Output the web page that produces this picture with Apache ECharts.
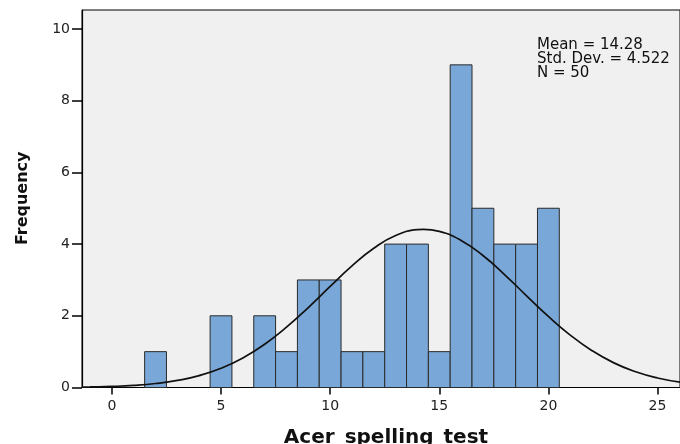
<!DOCTYPE html>
<html>
<head>
<meta charset="utf-8">
<script src="https://cdn.jsdelivr.net/npm/echarts@6/dist/echarts.min.js"></script>
<style>
html,body{margin:0;padding:0;background:#fff;}
#chart{width:680px;height:444px;}
</style>
</head>
<body>
<div id="chart"></div>
<script>
// Histogram bins (bin centre, width 1) and counts
const binCenters = [2, 5, 7, 8, 9, 10, 11, 12, 13, 14, 15, 16, 17, 18, 19, 20];
const binCounts  = [1, 2, 2, 1, 3, 3, 1, 1, 4, 4, 1, 9, 5, 4, 4, 5];
// Normal curve (x, frequency)
const curveX = [-1.37, -1, 0, 1, 2, 3, 4, 5, 6, 7, 8, 9, 10, 11, 12, 13, 14, 14.28, 15, 16, 17, 18, 19, 20, 21, 22, 23, 24, 25, 26.03];
const curveY = [0.011, 0.015, 0.030, 0.059, 0.111, 0.197, 0.333, 0.537, 0.825, 1.207, 1.682, 2.231, 2.818, 3.391, 3.884, 4.238, 4.403, 4.411, 4.355, 4.103, 3.681, 3.145, 2.558, 1.982, 1.462, 1.027, 0.687, 0.438, 0.266, 0.151];
const xTicks = [0, 5, 10, 15, 20, 25];
const yTicks = [0, 2, 4, 6, 8, 10];
const statsLines = ['Mean = 14.28', 'Std. Dev. = 4.522', 'N = 50'];
const xTitle = 'Acer_spelling_test';
const yTitle = 'Frequency';

const chart = echarts.init(document.getElementById('chart'), null, {renderer: 'canvas'});
const tickFont = {fontFamily: 'DejaVu Sans', fontSize: 14, color: '#222'};

chart.setOption({
  animation: false,
  backgroundColor: '#ffffff',
  grid: {
    left: 82, right: -2, top: 10, bottom: 56.5,
    show: true, backgroundColor: '#F0F0F0', borderColor: '#000', borderWidth: 1
  },
  xAxis: {
    type: 'value', min: -1.37, max: 26.03,
    axisLine: {show: true, onZero: false, lineStyle: {color: '#000', width: 1.2}},
    axisTick: {show: true, length: 7, customValues: xTicks, lineStyle: {color: '#000', width: 1.5}},
    axisLabel: Object.assign({customValues: xTicks, margin: 12}, tickFont),
    splitLine: {show: false}
  },
  yAxis: {
    type: 'value', min: 0, max: 10.53,
    axisLine: {show: true, onZero: false, lineStyle: {color: '#000', width: 1.2}},
    axisTick: {show: true, length: 10, customValues: yTicks, lineStyle: {color: '#000', width: 1.5}},
    axisLabel: Object.assign({customValues: yTicks, margin: 12, padding: [4, 0, 0, 0]}, tickFont),
    splitLine: {show: false}
  },
  series: [
    {
      type: 'custom',
      data: binCenters.map((c, i) => [c, binCounts[i]]),
      renderItem: function (params, api) {
        const x = api.value(0), y = api.value(1);
        const p1 = api.coord([x - 0.5, y]);
        const p2 = api.coord([x + 0.5, 0]);
        return {
          type: 'rect',
          shape: {x: p1[0], y: p1[1], width: p2[0] - p1[0], height: p2[1] - p1[1]},
          style: {fill: '#79A8D8', stroke: '#2a2a2a', lineWidth: 1}
        };
      },
      z: 2
    },
    {
      type: 'line',
      data: curveX.map((x, i) => [x, curveY[i]]),
      smooth: true,
      showSymbol: false,
      lineStyle: {color: '#111', width: 1.7},
      clip: true,
      z: 3
    }
  ],
  graphic: [
    {
      type: 'text', left: 537, top: 38, z: 10,
      style: {text: statsLines.join('\n'), fontFamily: 'DejaVu Sans', fontSize: 15, lineHeight: 14, fill: '#111'}
    },
    {
      type: 'text', x: 386, y: 438, z: 10,
      style: {text: xTitle, fontFamily: 'DejaVu Sans', fontWeight: 'bold', fontSize: 20, fill: '#111', align: 'center', verticalAlign: 'middle'}
    },
    {
      type: 'text', x: 22.5, y: 198.3, rotation: Math.PI / 2, z: 10,
      style: {text: yTitle, fontFamily: 'DejaVu Sans', fontWeight: 'bold', fontSize: 16, fill: '#111', align: 'center', verticalAlign: 'middle'}
    }
  ]
});
</script>
</body>
</html>
